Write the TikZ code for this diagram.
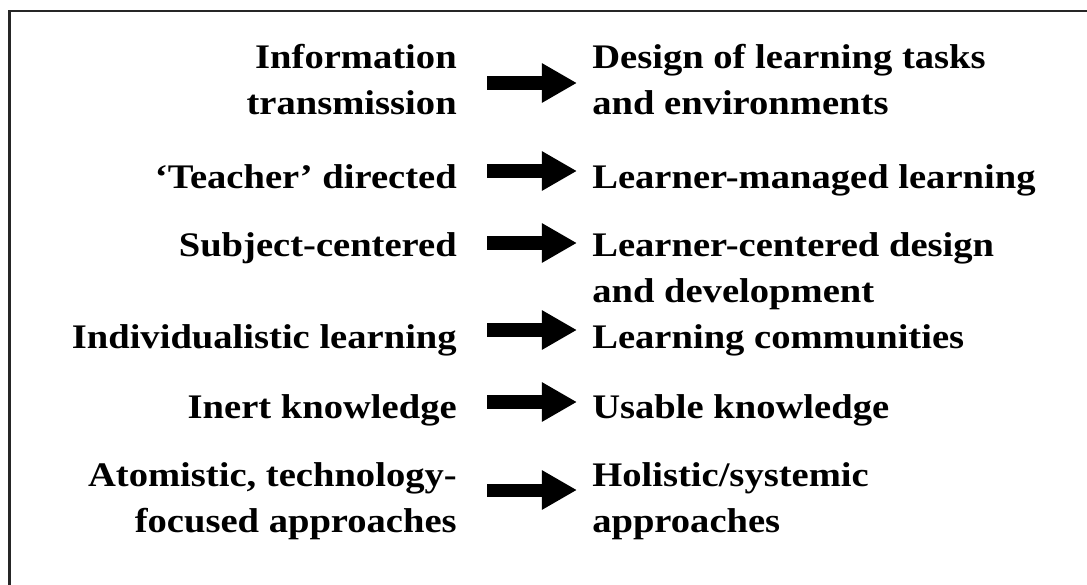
\documentclass[tikz,border=0pt]{standalone}
\usepackage{fontspec}
\setmainfont{Liberation Serif}[FakeStretch=1.12]
\usetikzlibrary{arrows.meta}
\tikzstyle{oldway} = [anchor=base east, align=right, inner sep=0pt,
    font=\fontsize{24.5pt}{32.4pt}\selectfont\bfseries]
\tikzstyle{newway} = [anchor=base west, align=left, inner sep=0pt,
    font=\fontsize{24.5pt}{32.4pt}\selectfont\bfseries]
\tikzstyle{line} = [draw, line width=9.25pt, -{Triangle[length=24.9pt, width=26.3pt]}]

\begin{document}
\begin{tikzpicture}[x=0.025cm, y=-0.025cm]
\useasboundingbox (0,0) rectangle (1087,585);

%% Frame, only its top and left edge are on the page
\draw[line width=1.8pt, black!85] (9.5,585) |- (1087,11.2);

%% Place nodes (base of a two-line node is its last line)
\node [oldway] (transmission) at (457,114) {Information\\transmission};
\node [oldway] (teacher) at (457,188) {‘Teacher’ directed};
\node [oldway] (subject) at (457,256) {Subject-centered};
\node [oldway] (individual) at (457,348) {Individualistic learning};
\node [oldway] (inert) at (457,418) {Inert knowledge};
\node [oldway] (atomistic) at (457,532) {Atomistic, technology-\\focused approaches};

\node [newway] (design) at (592,114) {Design of learning tasks\\and environments};
\node [newway] (managed) at (592,188) {Learner-managed learning};
\node [newway] (centered) at (592,302) {Learner-centered design\\and development};
\node [newway] (communities) at (592,348) {Learning communities};
\node [newway] (usable) at (592,418) {Usable knowledge};
\node [newway] (holistic) at (592,532) {Holistic/systemic\\approaches};

%% Arrow ends
\foreach \name/\y in {a/83,b/171,c/243,d/330,e/402,f/490}{
    \coordinate (from\name) at (487,\y);
    \coordinate (to\name) at (577,\y);
}

%% Draw arrows between columns
\foreach \name in {a,...,f}{
    \path [line] (from\name) -- (to\name);
}
\end{tikzpicture}
\end{document}
